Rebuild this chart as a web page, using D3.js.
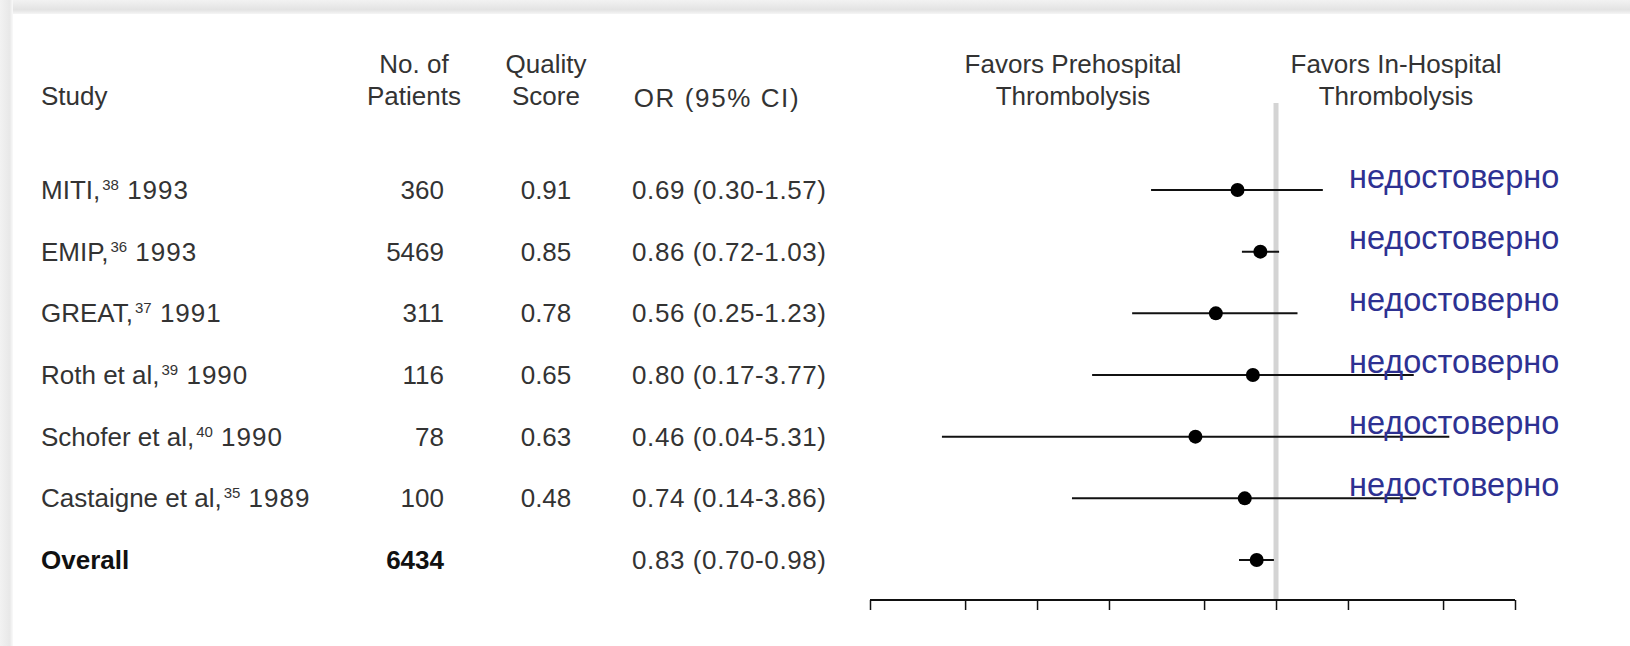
<!DOCTYPE html>
<html>
<head>
<meta charset="utf-8">
<script src="https://cdn.jsdelivr.net/npm/d3@7"></script>
<style>
  body { margin: 0; background: #fff; }
  svg { display: block; font-family: "Liberation Sans", Arial, sans-serif; }
</style>
</head>
<body>
<script>
'use strict';

var studies  = ["MITI", "EMIP", "GREAT", "Roth et al", "Schofer et al", "Castaigne et al", "Overall"];
var refNums  = ["38", "36", "37", "39", "40", "35", ""];
var years    = ["1993", "1993", "1991", "1990", "1990", "1989", ""];
var patients = [360, 5469, 311, 116, 78, 100, 6434];
var quality  = [0.91, 0.85, 0.78, 0.65, 0.63, 0.48, null];
var oddsRatio = [0.69, 0.86, 0.56, 0.80, 0.46, 0.74, 0.83];
var ciLow    = [0.30, 0.72, 0.25, 0.17, 0.04, 0.14, 0.70];
var ciHigh   = [1.57, 1.03, 1.23, 3.77, 5.31, 3.86, 0.98];
var notes    = ["недостоверно", "недостоверно", "недостоверно", "недостоверно", "недостоверно", "недостоверно", ""];
var tickValues = [0.02, 0.05, 0.1, 0.2, 0.5, 1, 2, 5, 10];

window.onload = function(){

   var width = 1630, height = 646;
   var fmt = d3.format(".2f");

   var rows = studies.map(function(s, i){
      return {name: s, ref: refNums[i], year: years[i], n: patients[i], q: quality[i],
              or: oddsRatio[i], lo: ciLow[i], hi: ciHigh[i], note: notes[i], overall: s === "Overall"};
   });

   var svg = d3.select("body").append("svg")
      .attr("width", width)
      .attr("height", height);

   // soft grey frame at top and left edges
   var defs = svg.append("defs");
   var gTop = defs.append("linearGradient").attr("id", "gTop")
      .attr("x1", 0).attr("y1", 0).attr("x2", 0).attr("y2", 1);
   gTop.append("stop").attr("offset", "0%").attr("stop-color", "#f2f2f2");
   gTop.append("stop").attr("offset", "70%").attr("stop-color", "#e3e3e3");
   gTop.append("stop").attr("offset", "100%").attr("stop-color", "#f5f5f5");
   var gLeft = defs.append("linearGradient").attr("id", "gLeft")
      .attr("x1", 0).attr("y1", 0).attr("x2", 1).attr("y2", 0);
   gLeft.append("stop").attr("offset", "0%").attr("stop-color", "#f2f2f2");
   gLeft.append("stop").attr("offset", "75%").attr("stop-color", "#e8e8e8");
   gLeft.append("stop").attr("offset", "100%").attr("stop-color", "#fafafa");

   svg.append("rect").attr("x", 0).attr("y", 0).attr("width", width).attr("height", 14)
      .attr("fill", "url(#gTop)");
   svg.append("rect").attr("x", 0).attr("y", 0).attr("width", 13).attr("height", height)
      .attr("fill", "url(#gLeft)");

   var x = d3.scaleLog()
      .domain([0.02, 10])
      .range([870, 1515]);

   var y = d3.scalePoint()
      .domain(studies)
      .range([190, 560]);

   var axisY = 600;

   // reference line at OR = 1
   svg.append("line")
      .attr("x1", x(1)).attr("x2", x(1))
      .attr("y1", 103).attr("y2", axisY)
      .attr("stroke", "#d4d4d4")
      .attr("stroke-width", 5);

   // headers
   var head = svg.append("g")
      .attr("font-size", 26)
      .attr("fill", "#333");

   head.append("text").attr("x", 41).attr("y", 105).text("Study");

   var multi = [
      {x: 414, lines: ["No. of", "Patients"]},
      {x: 546, lines: ["Quality", "Score"]},
      {x: 1073, lines: ["Favors Prehospital", "Thrombolysis"]},
      {x: 1396, lines: ["Favors In-Hospital", "Thrombolysis"]}
   ];
   multi.forEach(function(h){
      var t = head.append("text").attr("text-anchor", "middle");
      h.lines.forEach(function(l, i){
         t.append("tspan").attr("x", h.x).attr("y", 73 + i * 31.5).text(l);
      });
   });
   head.append("text").attr("x", 717).attr("y", 107)
      .attr("text-anchor", "middle")
      .attr("letter-spacing", 1.6)
      .text("OR (95% CI)");

   // table rows
   var table = svg.append("g")
      .attr("font-size", 26)
      .attr("fill", "#333");

   var rowG = table.selectAll("g.row")
      .data(rows)
      .enter()
      .append("g")
      .attr("class", "row")
      .attr("transform", function(d){ return "translate(0," + y(d.name) + ")"; });

   var nameText = rowG.append("text")
      .attr("x", 41)
      .attr("dy", "0.35em")
      .attr("font-weight", function(d){ return d.overall ? "bold" : null; })
      .attr("fill", function(d){ return d.overall ? "#111" : null; });
   nameText.append("tspan").text(function(d){ return d.ref ? d.name + "," : d.name; });
   nameText.filter(function(d){ return d.ref; }).append("tspan")
      .attr("dx", 2).attr("dy", -9).attr("font-size", 15)
      .text(function(d){ return d.ref; });
   nameText.filter(function(d){ return d.ref; }).append("tspan")
      .attr("dy", 9)
      .attr("letter-spacing", 1)
      .text(function(d){ return "\u00a0" + d.year; });

   rowG.append("text")
      .attr("x", 444)
      .attr("dy", "0.35em")
      .attr("text-anchor", "end")
      .attr("font-weight", function(d){ return d.overall ? "bold" : null; })
      .attr("fill", function(d){ return d.overall ? "#111" : null; })
      .text(function(d){ return d.n; });

   rowG.filter(function(d){ return d.q !== null; }).append("text")
      .attr("x", 546)
      .attr("dy", "0.35em")
      .attr("text-anchor", "middle")
      .text(function(d){ return fmt(d.q); });

   rowG.append("text")
      .attr("x", 632)
      .attr("dy", "0.35em")
      .attr("letter-spacing", 0.6)
      .text(function(d){ return fmt(d.or) + " (" + fmt(d.lo) + "-" + fmt(d.hi) + ")"; });

   // confidence intervals and point estimates
   rowG.append("line")
      .attr("x1", function(d){ return x(d.lo); })
      .attr("x2", function(d){ return x(d.hi); })
      .attr("stroke", "#111")
      .attr("stroke-width", 2);

   rowG.append("circle")
      .attr("cx", function(d){ return x(d.or); })
      .attr("r", 7)
      .attr("fill", "#000");

   // blue notes
   rowG.filter(function(d){ return d.note; }).append("text")
      .attr("x", 1349)
      .attr("y", -2.5)
      .attr("font-size", 32.5)
      .attr("font-family", "Arial, 'Liberation Sans', sans-serif")
      .attr("fill", "#2e3192")
      .text(function(d){ return d.note; });

   // log axis without labels
   var axis = d3.axisBottom(x)
      .tickValues(tickValues)
      .tickSize(10)
      .tickFormat(function(){ return ""; });

   var axisG = svg.append("g")
      .attr("transform", "translate(0," + axisY + ")")
      .call(axis);
   axisG.select(".domain")
      .attr("d", "M" + x(0.02) + ",0H" + x(10))
      .attr("stroke", "#111")
      .attr("stroke-width", 2);
   axisG.selectAll(".tick line")
      .attr("stroke", "#111")
      .attr("stroke-width", 1.5);
};
</script>
</body>
</html>
